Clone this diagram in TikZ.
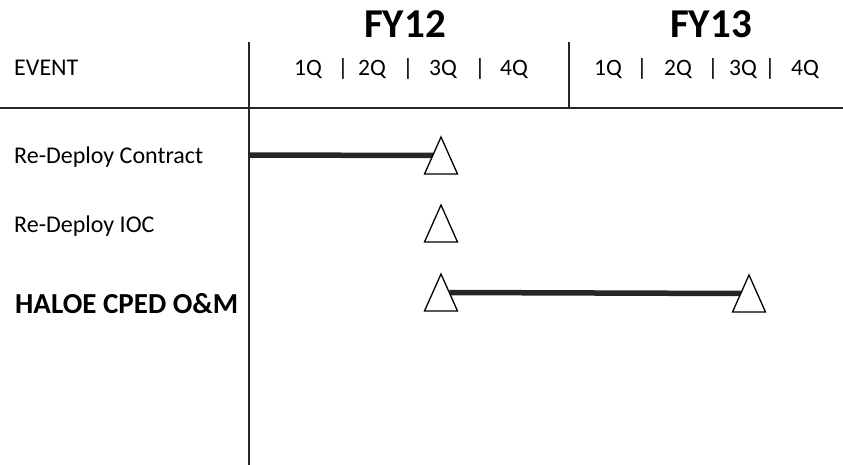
\documentclass[tikz,border=0pt]{standalone}
\usepackage{fontspec}
\setmainfont{Carlito}
\usepackage{tikz}
\usetikzlibrary{positioning,shapes.geometric,backgrounds}
\tikzset{
  evt/.style  ={anchor=base west, inner sep=0pt, font=\fontsize{24}{28}\selectfont},
  evtb/.style ={evt, font=\fontsize{29}{34}\selectfont\bfseries},
  fy/.style   ={anchor=base, inner sep=0pt, font=\fontsize{41}{46}\selectfont\bfseries},
  qtr/.style  ={anchor=base, inner sep=0pt, font=\fontsize{23.5}{27}\selectfont},
  rule/.style ={line width=2pt, black!85},
  bar/.style  ={line width=5.5pt, black!85},
  mile/.style ={isosceles triangle, shape border rotate=90, isosceles triangle stretches,
                minimum width=33pt, minimum height=37pt, inner sep=0pt, outer sep=0pt,
                draw=black, fill=white, line width=1.3pt, anchor=apex},
}

\begin{document}
\begin{tikzpicture}[x=1pt,y=-1pt]
  \useasboundingbox (0,0) rectangle (843,465);
  % grid
  \coordinate (vtop)  at (248.5,42);
  \coordinate (vbot)  at (248.5,465);
  \coordinate (ytop)  at (568.5,42);
  \coordinate (ybot)  at (568.5,108);
  \coordinate (hl)    at (0,108);
  \coordinate (hr)    at (843,108);
  \draw[rule] (vtop) -- (vbot);
  \draw[rule] (ytop) -- (ybot);
  \draw[rule, line width=2.5pt] (hl) -- (hr);
  % header
  \node[evt] (event) at (14,76) {EVENT};
  \node[fy]  (fy12)  at (405,38) {FY12};
  \node[fy]  (fy13)  at (711,38) {FY13};
  \foreach \t/\x [count=\i] in {1Q/308,|/343,2Q/372,|/408,3Q/443,|/480,4Q/514,
                                 1Q/608,|/642,2Q/678,|/713,3Q/743,|/770,4Q/805}
    \node[qtr] (q\i) at (\x,76) {\t};
  % events
  \node[evt]  (ev1) at (14,164) {Re-Deploy Contract};
  \node[evt]  (ev2) at (14,233) {Re-Deploy IOC};
  \node[evtb] (ev3) at (15,313) {HALOE CPED O\&M};
  % milestones
  \node[mile] (t1) at (441,137) {};
  \node[mile] (t2) at (441,205) {};
  \node[mile] (t3) at (441,274) {};
  \node[mile] (t4) at (749,275) {};
  \coordinate (r1) at (248.5,155);
  \begin{scope}[on background layer]
    \draw[bar] (r1) -- (t1.left side);
    \draw[bar] (t3.right side) -- (t4.left side);
  \end{scope}
\end{tikzpicture}
\end{document}
